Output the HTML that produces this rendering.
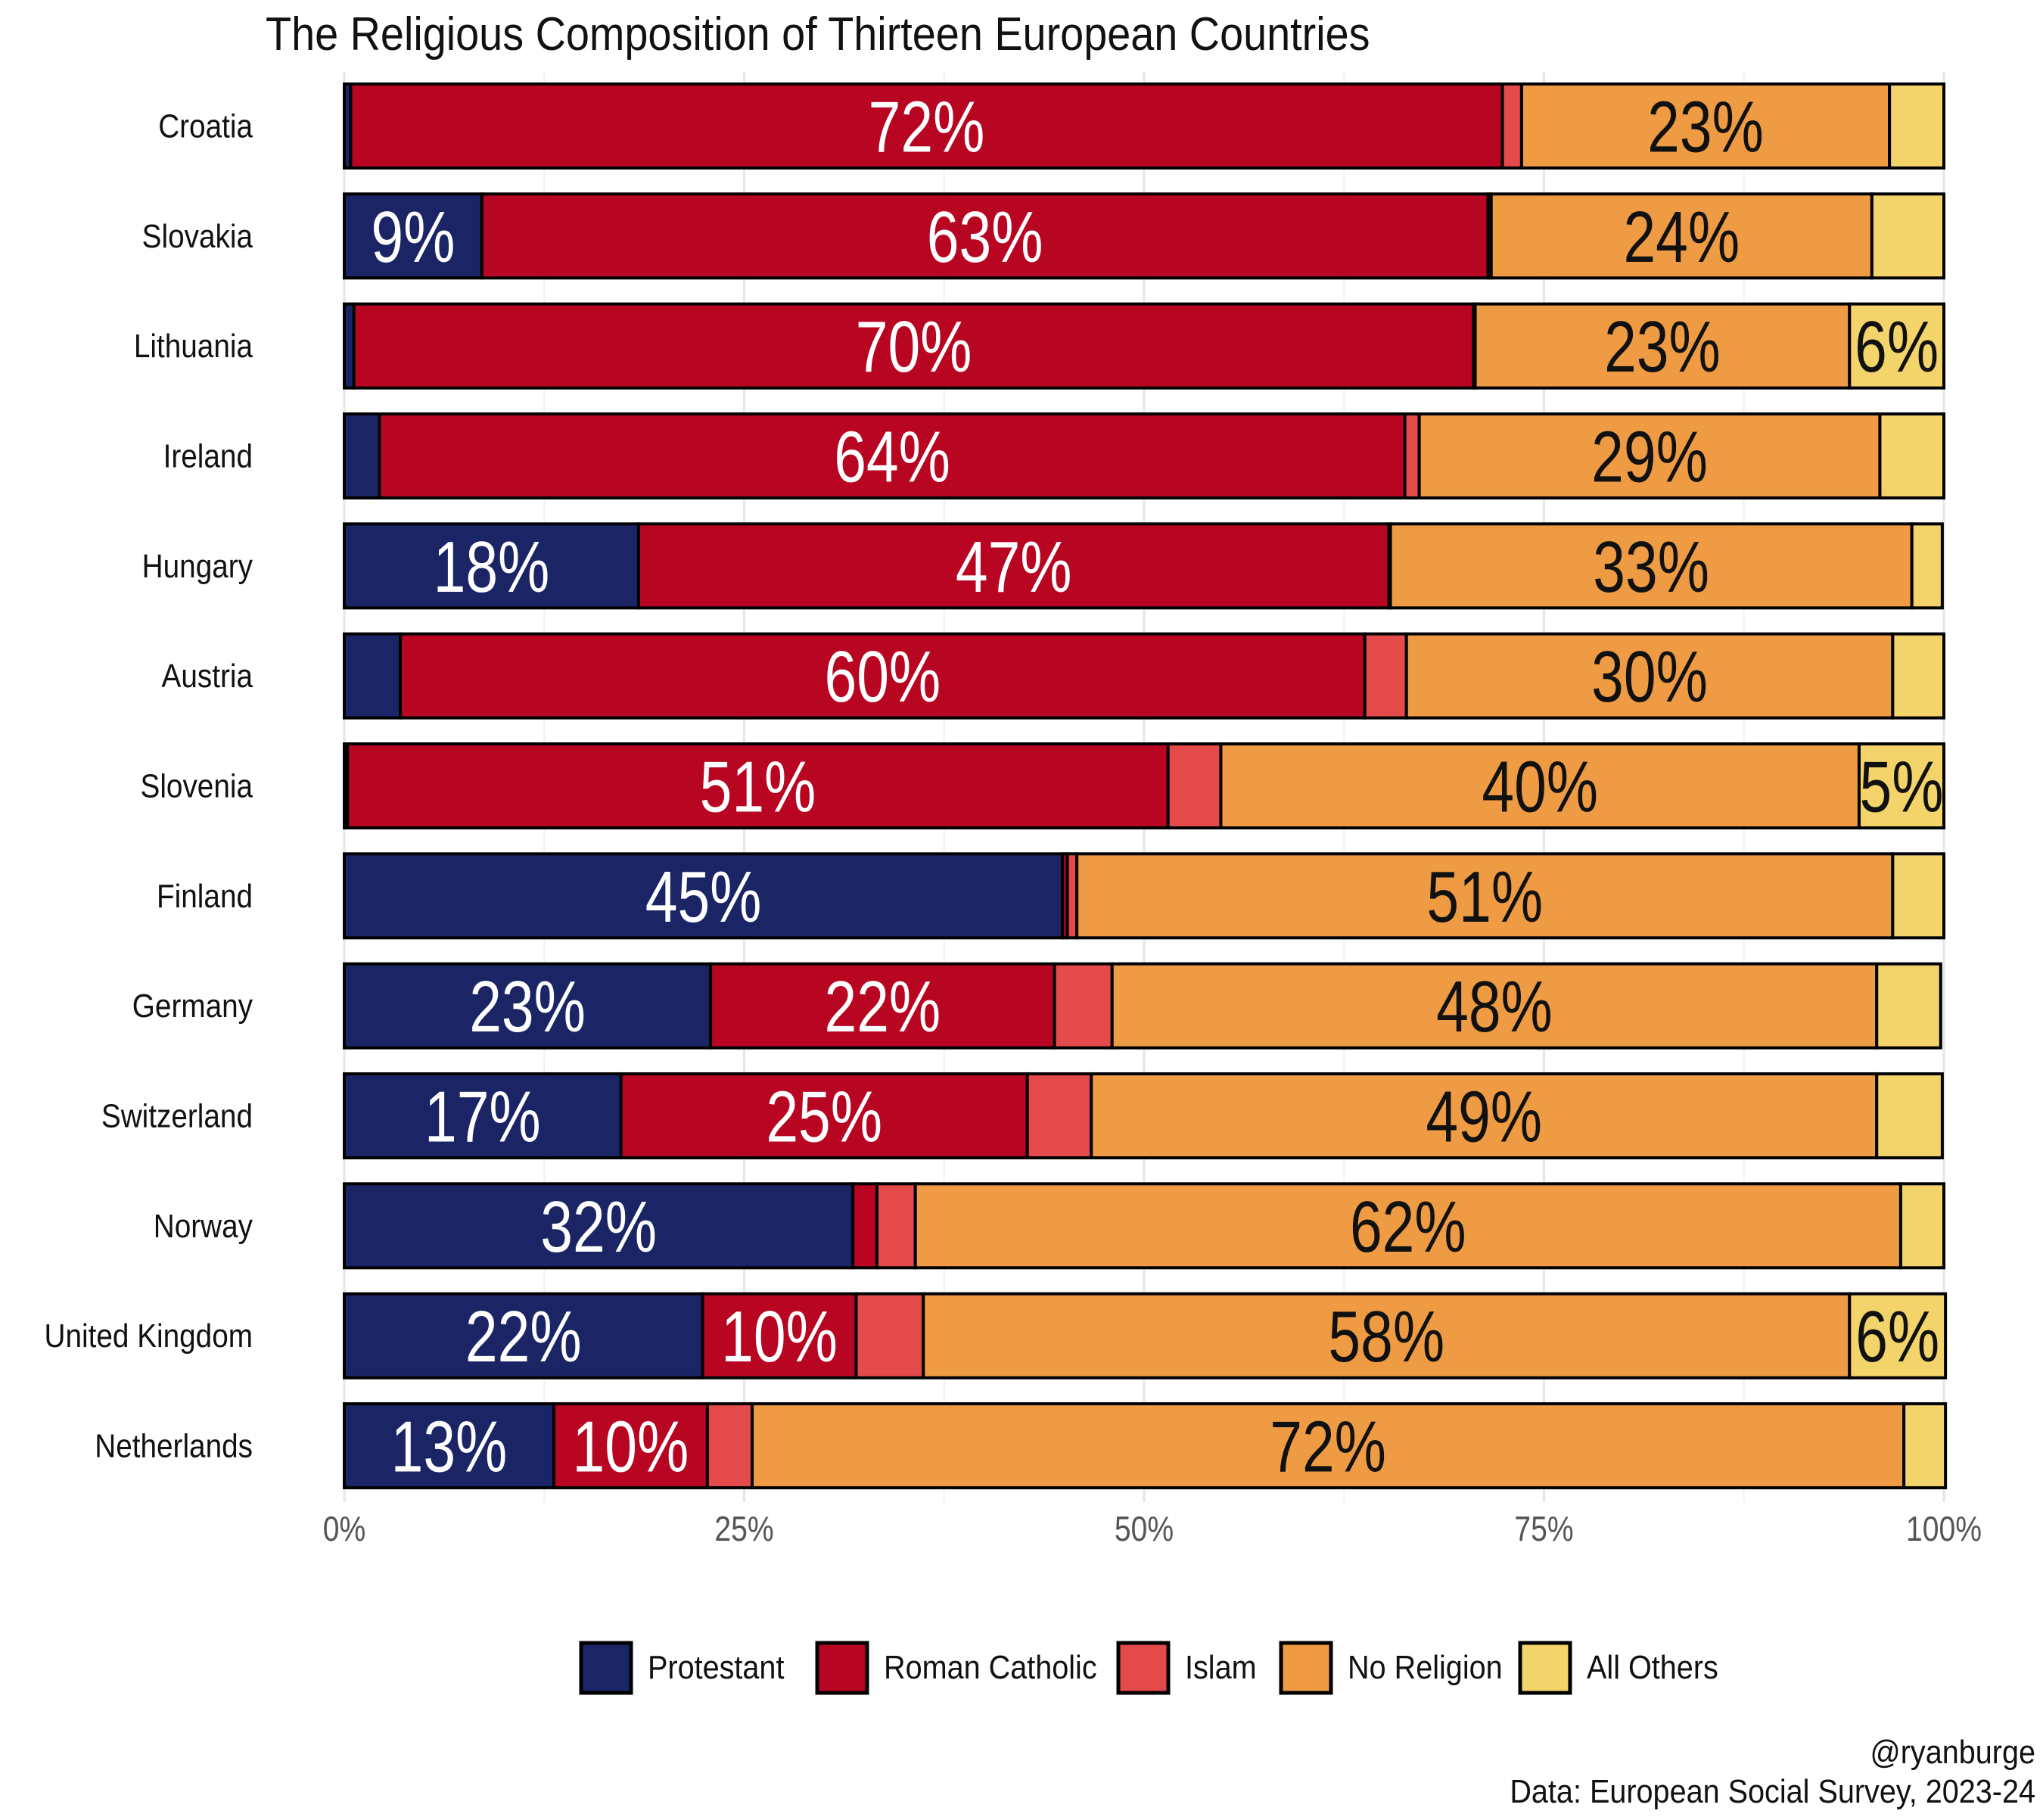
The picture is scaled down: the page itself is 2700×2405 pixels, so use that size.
<!DOCTYPE html>
<html><head><meta charset="utf-8"><style>
html,body{margin:0;padding:0;background:#fff;}
svg text{font-family:"Liberation Sans Narrow","Liberation Sans",sans-serif;}
</style></head><body>
<svg id="chart" width="2700" height="2400" viewBox="0 0 2700 2400" xmlns="http://www.w3.org/2000/svg">
<text transform="translate(351,66) scale(0.9,1)" font-size="62" fill="#111">The Religious Composition of Thirteen European Countries</text>
<g id="grid"></g><g id="bars"></g><g id="labels"></g><g id="axis"></g><g id="legend"></g>
<text transform="translate(2690,2330) scale(0.9,1)" font-size="44" text-anchor="end" fill="#111">@ryanburge</text>
<text transform="translate(2690,2382) scale(0.9,1)" font-size="44" text-anchor="end" fill="#111">Data: European Social Survey, 2023-24</text>
</svg>
<script>
const countries = ["Croatia","Slovakia","Lithuania","Ireland","Hungary","Austria","Slovenia","Finland","Germany","Switzerland","Norway","United Kingdom","Netherlands"];
const protestant = [0.4,8.6,0.6,2.2,18.4,3.5,0.2,44.9,22.9,17.3,31.8,22.4,13.1];
const catholic   = [72.0,62.9,70.0,64.1,46.9,60.3,51.3,0.3,21.5,25.4,1.5,9.6,9.6];
const islam      = [1.2,0.2,0.1,0.9,0.1,2.6,3.3,0.6,3.6,4.0,2.4,4.2,2.8];
const noReligion = [23.0,23.8,23.4,28.8,32.6,30.4,39.9,51.0,47.8,49.1,61.6,57.9,72.0];
const allOthers  = [3.4,4.5,5.9,4.0,1.9,3.2,5.3,3.2,4.0,4.1,2.7,6.0,2.6];
const seriesNames = ["Protestant","Roman Catholic","Islam","No Religion","All Others"];
const tickValues = [0,25,50,75,100];
const tickLabels = ["0%","25%","50%","75%","100%"];

const colors = ["#1b2566","#b70522","#e44a4a","#ee9b44","#f2d46a"];
const textColors = ["#fff","#fff","#fff","#111","#111"];
const series = [protestant,catholic,islam,noReligion,allOthers];
const NS = "http://www.w3.org/2000/svg";
const X0 = 455, X1 = 2569, ROW0 = 109, PITCH = 145.33, BH = 115;
const xScale = v => X0 + (X1 - X0) * v / 100;
const yScale = i => ROW0 + PITCH * i;
function mk(tag, attrs, parent){const e=document.createElementNS(NS,tag);for(const k in attrs)e.setAttribute(k,attrs[k]);parent.appendChild(e);return e;}
function txt(x,y,sx,attrs,parent,content){const t=mk('text',Object.assign({transform:'translate('+x+','+y+') scale('+sx+',1)'},attrs),parent);t.textContent=content;return t;}
const grid=document.getElementById('grid'), bars=document.getElementById('bars'), labels=document.getElementById('labels'), axis=document.getElementById('axis'), legend=document.getElementById('legend');
for(let v=0; v<=100; v+=12.5){
  const major = v%25===0;
  const l=mk('line',{x1:xScale(v),x2:xScale(v),y1:95,y2:1985,stroke:major?'#e6e6e6':'#f0f0f0','stroke-width':major?3:2},grid);
  
  
}
tickValues.forEach((v,i)=>{
  const t=txt(xScale(v),2036,0.85,{'font-size':46,'text-anchor':'middle',fill:'#555'},axis,tickLabels[i]);
  
  
});
countries.forEach((c,i)=>{
  const top=yScale(i);
  const cl=txt(334,top+BH/2+15,0.88,{'font-size':44,'text-anchor':'end',fill:'#111'},labels,c);
  
  
  let cum=0;
  series.forEach((s,k)=>{
    const v=s[i];
    const r=mk('rect',{x:xScale(cum),y:top+2,width:xScale(cum+v)-xScale(cum),height:BH-4,fill:colors[k],stroke:'#000','stroke-width':4},bars);
    
    
    if(v>=5){
      const t=txt((xScale(cum)+xScale(cum+v))/2,top+BH/2+34,0.8,{'font-size':96,'text-anchor':'middle',fill:textColors[k]},labels,Math.round(v)+'%');
      
      
    }
    cum+=v;
  });
});
const legendBoxX=[768,1080,1478,1693,2009];
seriesNames.forEach((n,k)=>{
  const r=mk('rect',{x:legendBoxX[k],y:2171,width:66,height:66,fill:colors[k],stroke:'#000','stroke-width':5},legend);
  
  
  const t=txt(legendBoxX[k]+88,2218,0.9,{'font-size':44,fill:'#111'},legend,n);
  
  
});
</script>
</body></html>
